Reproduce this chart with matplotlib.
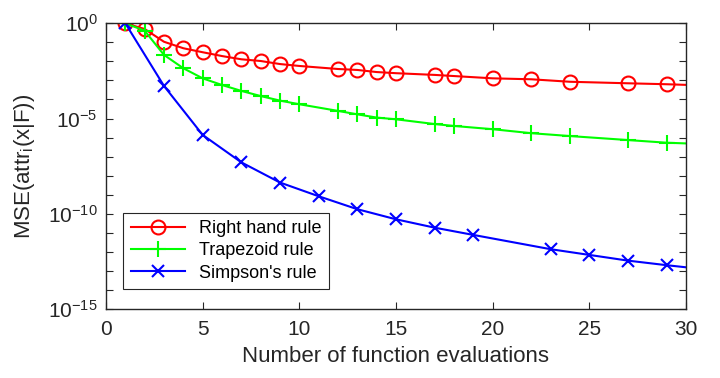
import numpy as np
import matplotlib
matplotlib.use("Agg")
import matplotlib.pyplot as plt
from matplotlib.ticker import FixedLocator, LogFormatterSciNotation, NullFormatter

plt.rcParams["font.family"] = ["Liberation Sans", "DejaVu Sans"]
plt.rcParams["mathtext.fontset"] = "custom"
plt.rcParams["mathtext.rm"] = "Liberation Sans"
plt.rcParams["mathtext.it"] = "Liberation Sans:italic"
plt.rcParams["mathtext.default"] = "regular"

# ─────────────────────────────────────────────
# DATA (log10 of MSE)
# last point of each series lies just past the x-limit, line gets clipped
# ─────────────────────────────────────────────
x_right = [1, 2, 3, 4, 5, 6, 7, 8, 9, 10, 12, 13, 14, 15, 17, 18, 20, 22, 24, 27, 29, 32]
log_right = [0, -0.30, -0.97, -1.31, -1.52, -1.72, -1.89, -1.98, -2.14, -2.24, -2.40,
             -2.45, -2.56, -2.62, -2.71, -2.77, -2.89, -2.94, -3.07, -3.15, -3.20, -3.30]

x_trap = [1, 2, 3, 4, 5, 6, 7, 8, 9, 10, 12, 13, 14, 15, 17, 18, 20, 22, 24, 27, 29, 32]
log_trap = [0, -0.39, -1.66, -2.36, -2.89, -3.24, -3.55, -3.82, -4.06, -4.25, -4.60,
            -4.78, -4.95, -5.04, -5.29, -5.39, -5.56, -5.77, -5.92, -6.13, -6.27, -6.38]

x_simp = [1, 3, 5, 7, 9, 11, 13, 15, 17, 19, 23, 25, 27, 29, 31]
log_simp = [0, -3.29, -5.86, -7.30, -8.36, -9.08, -9.76, -10.29, -10.73, -11.11,
            -11.86, -12.16, -12.46, -12.70, -12.92]

labels = ["Right hand rule", "Trapezoid rule", "Simpson's rule"]

# ─────────────────────────────────────────────
# PLOT
# ─────────────────────────────────────────────
fig = plt.figure(figsize=(7.2, 3.78), dpi=100)
ax = fig.add_axes([0.1472, 0.1825, 0.8056, 0.7559])

mk_right = list(range(len(x_right) - 1))
mk_simp = list(range(len(x_simp) - 1))

ax.plot(x_right, 10.0 ** np.array(log_right), color=(1, 0, 0), lw=1.5,
        marker="o", ms=10, mfc="none", mew=1.5, markevery=mk_right, label=labels[0])
ax.plot(x_trap, 10.0 ** np.array(log_trap), color=(0, 1, 0), lw=1.5,
        marker="+", ms=12, mew=1.5, markevery=mk_right, label=labels[1])
ax.plot(x_simp, 10.0 ** np.array(log_simp), color=(0, 0, 1), lw=1.5,
        marker="x", ms=9, mew=1.5, markevery=mk_simp, label=labels[2])

ax.set_yscale("log")
ax.set_xlim(0, 30)
ax.set_ylim(1e-15, 1e0)
ax.set_xticks([0, 5, 10, 15, 20, 25, 30])
ax.yaxis.set_major_locator(FixedLocator([1e-15, 1e-10, 1e-5, 1e0]))
ax.yaxis.set_major_formatter(LogFormatterSciNotation())
ax.yaxis.set_minor_locator(FixedLocator([10.0 ** k for k in range(-15, 1)]))
ax.yaxis.set_minor_formatter(NullFormatter())

txt = "#262626"
for s in ax.spines.values():
    s.set_color(txt)
    s.set_linewidth(1.0)
ax.tick_params(which="both", direction="in", top=True, right=True,
               length=5, width=0.8, color=txt, labelcolor=txt, labelsize=15)
ax.tick_params(axis="x", pad=8)
ax.tick_params(axis="y", pad=6)

ax.set_xlabel("Number of function evaluations", fontsize=16, color=txt, labelpad=5)
ax.set_ylabel(r"MSE(attr$_i$(x|F))", fontsize=16, color=txt, labelpad=8)

leg = ax.legend(loc="lower left", bbox_to_anchor=(0.03, 0.07), fontsize=13,
                fancybox=False, framealpha=1, edgecolor=txt, handlelength=3.0,
                borderpad=0.4, labelspacing=0.3, borderaxespad=0)
leg.get_frame().set_linewidth(0.8)

fig.savefig("out.png", dpi=100)
